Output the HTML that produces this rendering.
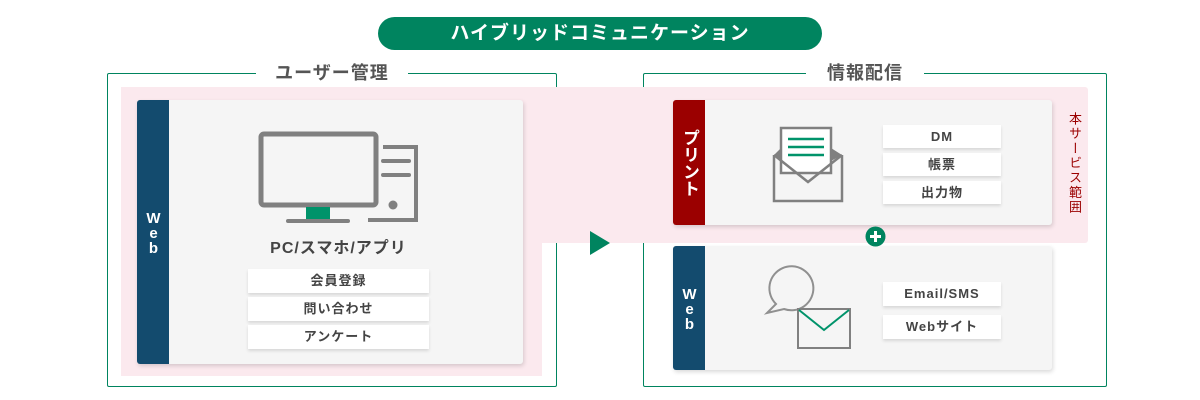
<!DOCTYPE html>
<html><head><meta charset="utf-8"><style>
body{margin:0;width:1200px;height:400px;background:#fff;position:relative;overflow:hidden;font-family:"Liberation Sans","Noto Sans CJK JP",sans-serif;}
.a{position:absolute;box-sizing:border-box}
.box{border:1px solid #00845f;border-radius:2px}
.lbl{background:#fff;color:#555;font-size:18px;font-weight:bold;text-align:center;line-height:20px;letter-spacing:1px}
.pink{background:#fbe9ee}
.card{background:#f5f5f5;box-shadow:1px 2px 4px rgba(0,0,0,.15);border-radius:3px}
.bar{color:#fff;font-weight:bold;font-size:15px;writing-mode:vertical-rl;text-orientation:upright;display:flex;align-items:center;justify-content:center;border-radius:3px 0 0 3px;letter-spacing:-2px;line-height:32px}
.it{background:#fff;box-shadow:0 2px 3px rgba(0,0,0,.12);text-align:center;font-size:13px;font-weight:bold;color:#444;letter-spacing:1px}
</style></head><body>
<div class="a" style="left:378px;top:17px;width:444px;height:33px;background:#00845f;border-radius:17px;color:#fff;font-size:19px;font-weight:bold;text-align:center;line-height:33px;letter-spacing:1px">ハイブリッドコミュニケーション</div>

<div class="a box" style="left:107px;top:73px;width:450px;height:314px"></div>
<div class="a box" style="left:643px;top:73px;width:464px;height:314px"></div>
<div class="a pink" style="left:121px;top:87px;width:421px;height:289px"></div>
<div class="a pink" style="left:121px;top:87px;width:967px;height:156px;border-radius:0 3px 3px 0"></div>
<div class="a lbl" style="left:256px;top:63px;width:152px">ユーザー管理</div>
<div class="a lbl" style="left:806px;top:63px;width:118px">情報配信</div>

<div class="a card" style="left:137px;top:100px;width:386px;height:264px"></div>
<div class="a bar" style="left:137px;top:100px;width:32px;height:264px;background:#134b6e">Web</div>
<svg class="a" style="left:250px;top:125px" width="180" height="100">
<rect x="11" y="9" width="115" height="71" rx="3" fill="none" stroke="#808080" stroke-width="5"/>
<rect x="56" y="82" width="24" height="13" fill="#00936a"/>
<line x1="38" y1="96" x2="98" y2="96" stroke="#808080" stroke-width="4" stroke-linecap="round"/>
<path d="M118 95 H166 V22 H133" fill="none" stroke="#808080" stroke-width="4"/>
<line x1="133" y1="36" x2="159" y2="36" stroke="#808080" stroke-width="4" stroke-linecap="round"/>
<line x1="133" y1="50" x2="159" y2="50" stroke="#808080" stroke-width="4" stroke-linecap="round"/>
<circle cx="143" cy="80" r="4.5" fill="#808080"/>
</svg>
<div class="a" style="left:238px;top:234px;width:201px;text-align:center;font-size:16px;color:#444;font-weight:bold;letter-spacing:1px">PC/スマホ/アプリ</div>
<div class="a it" style="left:248px;top:269px;width:181px;height:24px;line-height:24px">会員登録</div>
<div class="a it" style="left:248px;top:297px;width:181px;height:24px;line-height:24px">問い合わせ</div>
<div class="a it" style="left:248px;top:325px;width:181px;height:24px;line-height:24px">アンケート</div>

<svg class="a" style="left:588px;top:230px" width="24" height="26"><polygon points="2,1 22,13 2,25" fill="#00845f"/></svg>

<div class="a card" style="left:673px;top:100px;width:379px;height:125px"></div>
<div class="a bar" style="left:673px;top:100px;width:32px;height:125px;background:#9b0000;font-size:17px;letter-spacing:0">プリント</div>
<div class="a card" style="left:673px;top:246px;width:379px;height:124px"></div>
<div class="a bar" style="left:673px;top:246px;width:32px;height:124px;background:#134b6e">Web</div>

<svg class="a" style="left:770px;top:125px" width="80" height="85">
<path d="M4 30 V76 H72 V30" fill="none" stroke="#808080" stroke-width="2.5"/>
<rect x="11" y="3" width="50" height="45" fill="#fff" stroke="#808080" stroke-width="2.5"/>
<line x1="18" y1="14" x2="54" y2="14" stroke="#00936a" stroke-width="2.5"/>
<line x1="18" y1="22" x2="54" y2="22" stroke="#00936a" stroke-width="2.5"/>
<line x1="18" y1="30" x2="54" y2="30" stroke="#00936a" stroke-width="2.5"/>
<path d="M4 30 L38 57 L72 30" fill="none" stroke="#808080" stroke-width="2.5"/>
<path d="M4 30 L11 23 L11 36 Z M72 30 L61 23 L61 36Z" fill="#808080"/>
</svg>
<svg class="a" style="left:760px;top:260px" width="100" height="95">
<path d="M24 49 A22 22 0 1 0 16 44 L7 53 Z" fill="none" stroke="#909090" stroke-width="2"/>
<rect x="38" y="49" width="52" height="39" fill="#f5f5f5" stroke="#808080" stroke-width="2"/>
<path d="M39 50 L64 70 L89 50" fill="none" stroke="#00936a" stroke-width="2"/>
</svg>

<div class="a it" style="left:883px;top:125px;width:118px;height:23px;line-height:23px">DM</div>
<div class="a it" style="left:883px;top:153px;width:118px;height:23px;line-height:23px">帳票</div>
<div class="a it" style="left:883px;top:181px;width:118px;height:23px;line-height:23px">出力物</div>
<div class="a it" style="left:883px;top:282px;width:118px;height:24px;line-height:24px">Email/SMS</div>
<div class="a it" style="left:883px;top:315px;width:118px;height:24px;line-height:24px">Webサイト</div>

<svg class="a" style="left:865px;top:226px" width="21" height="21"><circle cx="10.5" cy="10.5" r="10" fill="#00845f"/><path d="M10.5 5 V16 M5 10.5 H16" stroke="#fff" stroke-width="3"/></svg>

<div class="a" style="left:1065px;top:112px;width:18px;writing-mode:vertical-rl;text-orientation:upright;color:#9b0000;font-size:13px;line-height:18px;letter-spacing:1.7px">本サービス範囲</div>
</body></html>
